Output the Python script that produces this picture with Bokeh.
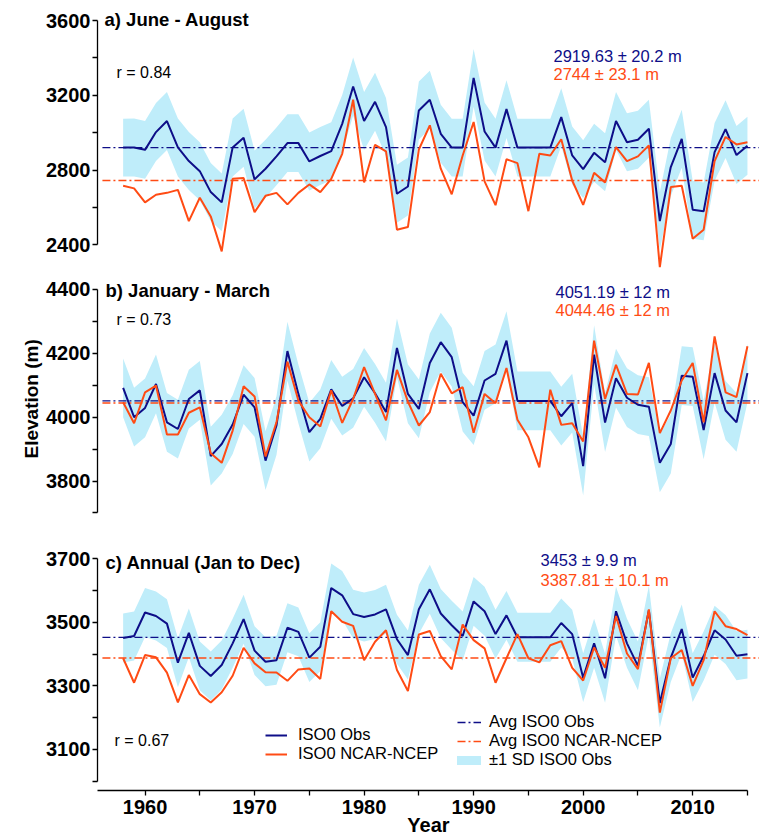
from bokeh.embed import file_html
from bokeh.layouts import column
from bokeh.models import FixedTicker, Label, Legend, LegendItem, Range1d, Title
from bokeh.plotting import figure
from bokeh.resources import INLINE

# ---------------------------------------------------------------- data
years = list(range(1958, 2016))

# a) June - August
jja_obs = [2920, 2921, 2908, 3003, 3062, 2921, 2848, 2794, 2682, 2627,
           2921, 2973, 2750, 2807, 2873, 2944, 2944, 2846, 2875, 2901,
           3047, 3247, 3062, 3165, 3030, 2673, 2712, 3119, 3176, 2994,
           2920, 2920, 3293, 3006, 2920, 3126, 2920, 2920, 2920, 2920,
           3083, 2878, 2805, 2892, 2842, 3062, 2949, 2962, 3021, 2527,
           2816, 2967, 2588, 2579, 2896, 3019, 2880, 2930]
jja_ncep = [2716, 2702, 2627, 2668, 2678, 2694, 2527, 2652, 2552, 2365,
            2753, 2757, 2575, 2662, 2678, 2616, 2678, 2723, 2682, 2753,
            2887, 3176, 2734, 2935, 2900, 2481, 2495, 2910, 3039, 2807,
            2670, 2878, 3057, 2739, 2612, 2858, 2837, 2580, 2887, 2878,
            2965, 2744, 2614, 2785, 2734, 2923, 2848, 2873, 2932, 2280,
            2709, 2716, 2432, 2481, 2848, 2977, 2937, 2949]
jja_sd = 155
jja_mean_obs, jja_se_obs = 2919.63, 20.2
jja_mean_ncep, jja_se_ncep = 2744, 23.1
jja_r = 0.84

# b) January - March
jfm_obs = [4092, 4000, 4029, 4104, 3984, 3963, 4057, 4084, 3878, 3916,
           3977, 4071, 4031, 3864, 3974, 4207, 4073, 3953, 3995, 4087,
           4035, 4059, 4125, 4075, 4016, 4217, 4073, 4026, 4170, 4235,
           4188, 4047, 4005, 4115, 4136, 4240, 4051, 4051, 4051, 4051,
           4003, 4044, 3847, 4196, 3983, 4122, 4061, 4039, 4033, 3857,
           3916, 4130, 4127, 3960, 4138, 4021, 3984, 4138]
jfm_ncep = [4047, 3981, 4078, 4099, 3946, 3946, 4014, 4031, 3887, 3857,
            3958, 4097, 4065, 3877, 3984, 4174, 4052, 4000, 3971, 4084,
            3982, 4057, 4157, 4073, 3990, 4148, 4049, 3974, 4016, 4136,
            4075, 4094, 3951, 4073, 4044, 4154, 3992, 3937, 3843, 4086,
            3976, 3981, 3924, 4240, 4057, 4164, 4073, 4071, 4170, 3950,
            4021, 4115, 4170, 3984, 4253, 4078, 4063, 4222]
jfm_sd = 92
jfm_mean_obs, jfm_se_obs = 4051.19, 12
jfm_mean_ncep, jfm_se_ncep = 4044.46, 12
jfm_r = 0.73

# c) Annual (Jan to Dec)
ann_obs = [3451, 3457, 3531, 3520, 3496, 3373, 3467, 3363, 3331, 3366,
           3434, 3510, 3411, 3376, 3381, 3483, 3470, 3389, 3423, 3608,
           3585, 3526, 3517, 3525, 3541, 3447, 3397, 3541, 3604, 3528,
           3491, 3457, 3566, 3535, 3463, 3522, 3453, 3453, 3453, 3453,
           3498, 3463, 3326, 3434, 3324, 3535, 3434, 3363, 3538, 3246,
           3389, 3479, 3326, 3394, 3475, 3446, 3395, 3400]
ann_ncep = [3387, 3310, 3397, 3390, 3342, 3248, 3334, 3274, 3248, 3280,
            3332, 3420, 3371, 3343, 3342, 3316, 3352, 3355, 3322, 3535,
            3502, 3489, 3381, 3439, 3475, 3350, 3284, 3462, 3473, 3394,
            3352, 3493, 3444, 3418, 3310, 3387, 3463, 3387, 3374, 3428,
            3441, 3357, 3317, 3421, 3357, 3520, 3402, 3353, 3541, 3216,
            3387, 3413, 3300, 3381, 3535, 3488, 3479, 3460]
ann_sd = 77
ann_mean_obs, ann_se_obs = 3453, 9.9
ann_mean_ncep, ann_se_ncep = 3387.81, 10.1
ann_r = 0.67

year_ticks = [1960, 1970, 1980, 1990, 2000, 2010]
year_minor_ticks = [1965, 1975, 1985, 1995, 2005, 2015]

# ---------------------------------------------------------------- style
NAVY = "#0e0e88"
ORANGE = "#ff4b14"
BAND = "#bfedfa"
FONT = "Liberation Sans"
PAGE_W = 759
LEFT = 97                      # width of the left border (y-axis column)
X_LO, X_HI = 1955.66, 2016.1   # visible year span
X_AXIS_END = 2015

x_range = Range1d(X_LO, X_HI)


def fmt(v):
    return f"{v:g}"


def place(fig, frame_top, frame_h, px, py, text, **kw):
    """Label positioned in page pixels (origin top-left of the page)."""
    lab = Label(x=px - LEFT, y=frame_top + frame_h - py,
                x_units="screen", y_units="screen", text=text,
                text_font=FONT, text_baseline="middle", **kw)
    fig.add_layout(lab)
    return lab


def style_axis(ax):
    ax.axis_line_width = 1.3
    ax.axis_line_color = "black"
    ax.major_tick_in = 0
    ax.major_tick_out = 5
    ax.minor_tick_in = 0
    ax.minor_tick_out = 5
    ax.major_tick_line_width = 1.3
    ax.minor_tick_line_width = 1.3
    ax.major_label_text_font = FONT
    ax.major_label_text_font_size = "20px"
    ax.major_label_text_font_style = "bold"
    ax.major_label_text_color = "black"


def panel(spec):
    has_x = spec["x_axis"]
    frame_h = spec["frame_h"]
    bottom = spec.get("bottom", 0)
    fig = figure(width=PAGE_W, height=frame_h + bottom,
                 x_range=x_range, y_range=Range1d(*spec["y_range"]),
                 output_backend="svg", toolbar_location=None,
                 min_border_left=LEFT, min_border_right=0,
                 min_border_top=0, min_border_bottom=bottom,
                 x_axis_location="below" if has_x else None,
                 outline_line_color=None)
    fig.grid.visible = False

    yax = fig.yaxis[0]
    yax.ticker = FixedTicker(ticks=spec["ticks"], minor_ticks=spec["minor"])
    yax.bounds = spec["bounds"]
    style_axis(yax)
    yax.major_label_standoff = 2

    if has_x:
        xax = fig.xaxis[0]
        xax.ticker = FixedTicker(ticks=year_ticks, minor_ticks=year_minor_ticks)
        xax.bounds = (X_LO, X_AXIS_END)
        style_axis(xax)
        xax.major_label_standoff = 4
        xax.axis_label = "Year"
        xax.axis_label_text_font = FONT
        xax.axis_label_text_font_size = "20px"
        xax.axis_label_text_font_style = "bold"
        xax.axis_label_text_color = "black"
        xax.axis_label_standoff = -3

    obs, ncep, sd = spec["obs"], spec["ncep"], spec["sd"]
    lower = [v - sd for v in obs]
    upper = [v + sd for v in obs]
    fig.varea(x=years, y1=lower, y2=upper, fill_color=BAND, fill_alpha=1)

    mx = [X_LO + 0.45, X_HI]
    m_obs = fig.line(x=mx, y=[spec["mean_obs"]] * 2, line_color=NAVY,
                     line_width=1.3, line_dash="8 3 2 3")
    m_ncep = fig.line(x=mx, y=[spec["mean_ncep"]] * 2, line_color=ORANGE,
                      line_width=1.3, line_dash="8 3 2 3")
    l_obs = fig.line(x=years, y=obs, line_color=NAVY, line_width=2)
    l_ncep = fig.line(x=years, y=ncep, line_color=ORANGE, line_width=2)

    top = spec["top"]
    place(fig, top, frame_h, *spec["title_at"], spec["title"],
          text_font_size="18.5px", text_font_style="bold", text_color="black")
    place(fig, top, frame_h, *spec["r_at"], f"r = {spec['r']:.2f}",
          text_font_size="16px", text_color="black")
    tx, ty = spec["mean_at"]
    place(fig, top, frame_h, tx, ty,
          f"{fmt(spec['mean_obs'])} \u00b1 {fmt(spec['se_obs'])} m",
          text_font_size="16.5px", text_color=NAVY)
    place(fig, top, frame_h, tx, ty + spec["mean_gap"],
          f"{fmt(spec['mean_ncep'])} \u00b1 {fmt(spec['se_ncep'])} m",
          text_font_size="16.5px", text_color=ORANGE)
    return fig, dict(obs=l_obs, ncep=l_ncep, m_obs=m_obs, m_ncep=m_ncep)


specs = [
    dict(obs=jja_obs, ncep=jja_ncep, sd=jja_sd,
         mean_obs=jja_mean_obs, se_obs=jja_se_obs,
         mean_ncep=jja_mean_ncep, se_ncep=jja_se_ncep, r=jja_r,
         title="a) June - August", top=0, frame_h=275, x_axis=False,
         y_range=(2235.8, 3707.0), bounds=(2400, 3600),
         ticks=[2400, 2800, 3200, 3600], minor=[2600, 3000, 3400],
         title_at=(104, 19), r_at=(116, 72), mean_at=(553, 55), mean_gap=18),
    dict(obs=jfm_obs, ncep=jfm_ncep, sd=jfm_sd,
         mean_obs=jfm_mean_obs, se_obs=jfm_se_obs,
         mean_ncep=jfm_mean_ncep, se_ncep=jfm_se_ncep, r=jfm_r,
         title="b) January - March", top=275, frame_h=260, x_axis=False,
         y_range=(3629.5, 4443.8), bounds=(3700, 4400),
         ticks=[3800, 4000, 4200, 4400], minor=[3700, 3900, 4100, 4300],
         title_at=(105, 290), r_at=(116, 319), mean_at=(555, 291), mean_gap=18),
    dict(obs=ann_obs, ncep=ann_ncep, sd=ann_sd,
         mean_obs=ann_mean_obs, se_obs=ann_se_obs,
         mean_ncep=ann_mean_ncep, se_ncep=ann_se_ncep, r=ann_r,
         title="c) Annual (Jan to Dec)", top=535, frame_h=256, bottom=47,
         x_axis=True,
         y_range=(2970.8, 3773.4), bounds=(3000, 3700),
         ticks=[3100, 3300, 3500, 3700], minor=[3000, 3200, 3400, 3600],
         title_at=(105, 563), r_at=(114, 741), mean_at=(540, 560), mean_gap=20),
]

figs = []
parts = []
for s in specs:
    f, r = panel(s)
    figs.append(f)
    parts.append(r)

fa, fb, fc = figs
pc = parts[2]

# shared y-axis title, in the left border of the middle panel
fb.add_layout(Title(text="Elevation (m)", align="left", offset=77, standoff=4,
                    text_font=FONT, text_font_size="19px",
                    text_font_style="bold", text_color="black"), "left")

# legend key for the ±1 SD band (no visible points of its own)
band_key = fc.line(x=years[:2], y=[float("nan")] * 2, line_color=BAND,
                   line_width=9, line_cap="round")

common = dict(padding=0, margin=0, spacing=0, border_line_color=None,
              background_fill_alpha=0, glyph_height=18, label_height=18,
              label_text_font=FONT, label_text_font_size="16.5px",
              label_text_color="black")
leg1 = Legend(items=[LegendItem(label="ISO0 Obs", renderers=[pc["obs"]]),
                     LegendItem(label="ISO0 NCAR-NCEP", renderers=[pc["ncep"]])],
              location=(168, 27), glyph_width=22, label_standoff=11, **common)
leg2 = Legend(items=[LegendItem(label="Avg ISO0 Obs", renderers=[pc["m_obs"]]),
                     LegendItem(label="Avg ISO0 NCAR-NCEP", renderers=[pc["m_ncep"]]),
                     LegendItem(label="\u00b11 SD ISO0 Obs", renderers=[band_key])],
              location=(360, 21), glyph_width=24, label_standoff=8, **common)
fc.add_layout(leg1, "center")
fc.add_layout(leg2, "center")

page = column(fa, fb, fc, spacing=0)
open("out.html", "w").write(file_html(page, INLINE))
